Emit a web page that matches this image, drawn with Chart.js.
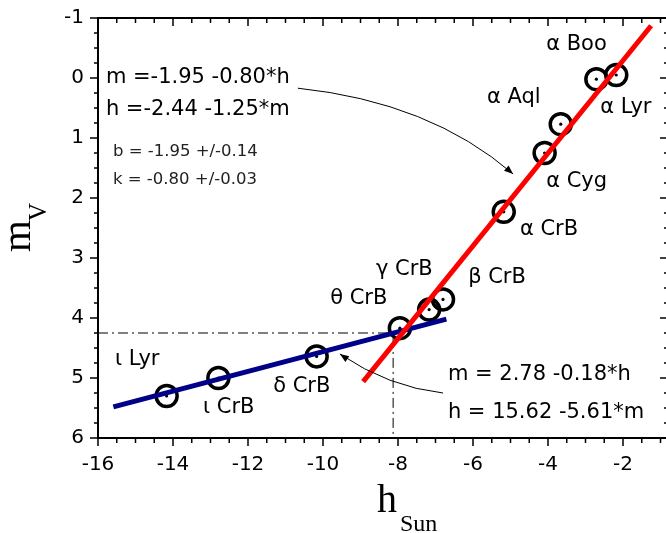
<!DOCTYPE html>
<html lang="en">
<head>
<meta charset="UTF-8">
<title>m_V vs h_Sun</title>
<script src="https://cdn.jsdelivr.net/npm/chart.js"></script>
<style>
  html, body { margin: 0; padding: 0; background: #fff; overflow: hidden; }
  #wrap { position: relative; width: 670px; height: 533px; }
</style>
</head>
<body>
<div id="wrap"><canvas id="chart"></canvas></div>
<script>
// stars: sun altitude at first sighting (deg) and visual magnitude
var starNames = ['α Boo', 'α Lyr', 'α Aql', 'α Cyg', 'α CrB', 'β CrB', 'γ CrB', 'θ CrB', 'δ CrB', 'ι CrB', 'ι Lyr'];
var hSun = [-2.71, -2.18, -3.66, -4.09, -5.18, -6.80, -7.17, -7.95, -10.17, -12.79, -14.17];
var mV = [0.02, -0.05, 0.77, 1.25, 2.23, 3.69, 3.86, 4.17, 4.64, 5.00, 5.30];

// fitted lines, end points
var redFitH = [-8.93, -1.25];
var redFitM = [5.06, -0.87];
var blueFitH = [-15.59, -6.71];
var blueFitM = [5.48, 4.02];

// dash-dot guide through the break
var breakH = -8.13;
var breakM = 4.25;

var xTicks = [-16, -14, -12, -10, -8, -6, -4, -2];
var yTicks = [-1, 0, 1, 2, 3, 4, 5, 6];

var fitTexts = ['m =-1.95 -0.80*h', 'h =-2.44 -1.25*m', 'b = -1.95 +/-0.14', 'k = -0.80 +/-0.03',
                'm = 2.78 -0.18*h', 'h = 15.62 -5.61*m'];

// where the labels sit (data units, left edge / middle)
var starLabelAt = {
  'α Boo': [-4.05, -0.55], 'α Lyr': [-2.61, 0.50], 'α Aql': [-5.63, 0.33], 'α Cyg': [-4.05, 1.72],
  'α CrB': [-4.75, 2.53], 'β CrB': [-6.13, 3.33], 'γ CrB': [-8.59, 3.20], 'θ CrB': [-9.81, 3.67],
  'δ CrB': [-11.33, 5.15], 'ι CrB': [-13.20, 5.50], 'ι Lyr': [-15.55, 4.70]
};
var fitTextAt = [[-15.79, 0.0], [-15.79, 0.53], [-15.6, 1.23], [-15.6, 1.70], [-6.67, 4.95], [-6.67, 5.57]];

function pts(xs, ys) {
  return xs.map(function (v, i) { return { x: v, y: ys[i] }; });
}

function arrow(ctx, p0, c, p1) {
  ctx.beginPath();
  ctx.moveTo(p0.x, p0.y);
  ctx.quadraticCurveTo(c.x, c.y, p1.x, p1.y);
  ctx.stroke();
  var ang = Math.atan2(p1.y - c.y, p1.x - c.x);
  ctx.beginPath();
  ctx.moveTo(p1.x, p1.y);
  ctx.lineTo(p1.x - 9 * Math.cos(ang) + 3.5 * Math.sin(ang), p1.y - 9 * Math.sin(ang) - 3.5 * Math.cos(ang));
  ctx.lineTo(p1.x - 9 * Math.cos(ang) - 3.5 * Math.sin(ang), p1.y - 9 * Math.sin(ang) + 3.5 * Math.cos(ang));
  ctx.closePath();
  ctx.fill();
}

var frame = {
  id: 'frame',
  afterDraw: function (chart) {
    var ctx = chart.ctx, a = chart.chartArea, sx = chart.scales.x, sy = chart.scales.y;
    function P(h, m) { return { x: sx.getPixelForValue(h), y: sy.getPixelForValue(m) }; }
    ctx.save();
    ctx.strokeStyle = '#000';
    ctx.fillStyle = '#000';
    ctx.lineWidth = 2;
    ctx.strokeRect(a.left, a.top, a.right - a.left, a.bottom - a.top);

    // ticks: x every 0.5, y every 0.25
    ctx.lineWidth = 1.5;
    ctx.beginPath();
    for (var v = -16; v <= -0.8; v += 0.5) {
      var px = sx.getPixelForValue(v), big = Math.abs(v % 2) < 1e-6;
      ctx.moveTo(px, a.bottom); ctx.lineTo(px, a.bottom + (big ? 8 : 5));
      ctx.moveTo(px, a.top); ctx.lineTo(px, a.top + (big ? 8 : 5));
    }
    for (var w = -1; w <= 6; w += 0.25) {
      var py = sy.getPixelForValue(w), major = Math.abs(w % 1) < 1e-6;
      ctx.moveTo(a.left, py); ctx.lineTo(a.left - (major ? 8 : 4), py);
      ctx.moveTo(a.right, py); ctx.lineTo(a.right - (major ? 8 : 4), py);
    }
    ctx.stroke();

    // tick labels
    ctx.font = '20px "DejaVu Sans"';
    ctx.textBaseline = 'middle';
    ctx.textAlign = 'center';
    xTicks.forEach(function (t) { ctx.fillText(String(t), sx.getPixelForValue(t), a.bottom + 27); });
    ctx.textAlign = 'right';
    yTicks.forEach(function (t) { ctx.fillText(String(t), a.left - 14, sy.getPixelForValue(t)); });

    // arrows to the fit equations
    ctx.lineWidth = 1;
    arrow(ctx, P(-10.67, 0.17), P(-7.15, 0.40), P(-4.93, 1.60));
    arrow(ctx, P(-6.80, 5.25), P(-8.25, 5.15), P(-9.55, 4.60));

    // star labels
    ctx.textAlign = 'left';
    ctx.font = '21px "DejaVu Sans"';
    starNames.forEach(function (n) {
      var p = P(starLabelAt[n][0], starLabelAt[n][1]);
      ctx.fillText(n, p.x, p.y);
    });

    // fit equations
    fitTexts.forEach(function (t, i) {
      var small = (i === 2 || i === 3);
      ctx.font = small ? '16.5px "DejaVu Sans"' : '21px "DejaVu Sans"';
      ctx.fillStyle = small ? '#222' : '#000';
      var p = P(fitTextAt[i][0], fitTextAt[i][1]);
      ctx.fillText(t, p.x, p.y);
    });
    ctx.fillStyle = '#000';

    // axis titles
    ctx.textBaseline = 'alphabetic';
    ctx.font = '40px "Liberation Serif"';
    ctx.fillText('h', a.left + 279, 512);
    ctx.font = '24px "Liberation Serif"';
    ctx.fillText('Sun', a.left + 302, 531);
    ctx.save();
    ctx.translate(30, 252);
    ctx.rotate(-Math.PI / 2);
    ctx.font = '41px "Liberation Serif"';
    ctx.fillText('m', 0, 0);
    var mw = ctx.measureText('m').width;
    ctx.font = '25px "Liberation Serif"';
    ctx.fillText('V', mw - 1, 16);
    ctx.restore();
    ctx.restore();
  }
};

new Chart(document.getElementById('chart'), {
  type: 'scatter',
  data: {
    datasets: [
      {
        label: 'red fit', data: pts(redFitH, redFitM), showLine: true,
        borderColor: '#ff0000', borderWidth: 5, pointRadius: 0, order: 0
      },
      {
        label: 'blue fit', data: pts(blueFitH, blueFitM), showLine: true,
        borderColor: '#000088', borderWidth: 5, pointRadius: 0, order: 1
      },
      {
        label: 'break', data: [{ x: -16, y: breakM }, { x: breakH, y: breakM }, { x: breakH, y: 6 }],
        showLine: true, borderColor: '#000', borderWidth: 1, borderDash: [10, 4, 2, 4],
        pointRadius: 0, order: 2
      },
      {
        label: 'centres', data: pts(hSun, mV), pointRadius: 1.6, pointBackgroundColor: '#000',
        pointBorderWidth: 0, order: 3
      },
      {
        label: 'stars', data: pts(hSun, mV), pointRadius: 10.5, pointBorderWidth: 3.5,
        pointBorderColor: '#000', pointBackgroundColor: 'rgba(0,0,0,0)', order: 4
      }
    ]
  },
  options: {
    responsive: true,
    maintainAspectRatio: false,
    animation: false,
    layout: { autoPadding: false, padding: { top: 18, right: 2, left: 0, bottom: 0 } },
    plugins: { legend: { display: false }, tooltip: { enabled: false } },
    scales: {
      x: {
        type: 'linear', min: -16, max: -0.8,
        afterBuildTicks: function (s) { s.ticks = xTicks.map(function (v) { return { value: v }; }); },
        afterFit: function (s) { s.height = 95; },
        grid: { display: false, drawTicks: false },
        border: { display: false },
        ticks: { display: false }
      },
      y: {
        type: 'linear', min: -1, max: 6, reverse: true,
        afterBuildTicks: function (s) { s.ticks = yTicks.map(function (v) { return { value: v }; }); },
        afterFit: function (s) { s.width = 98; },
        grid: { display: false, drawTicks: false },
        border: { display: false },
        ticks: { display: false }
      }
    }
  },
  plugins: [frame]
});
</script>
</body>
</html>
